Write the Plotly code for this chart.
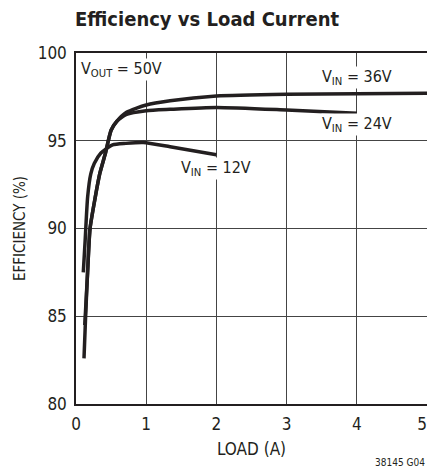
import plotly.graph_objects as go

# ---------------- data ----------------
load_12v = [0.104, 0.13, 0.166, 0.21, 0.26, 0.355, 0.52, 0.71, 0.96, 1.34, 2.0]
eff_12v = [87.5, 89.3, 91.8, 93.1, 93.7, 94.3, 94.76, 94.85, 94.9, 94.66, 94.2]

load_24v = [0.125, 0.165, 0.2, 0.275, 0.34, 0.42, 0.5, 0.58, 0.72, 1.0, 1.34, 2.0, 3.0, 4.0]
eff_24v = [84.5, 87.5, 90.0, 91.8, 93.15, 94.3, 95.6, 96.1, 96.5, 96.71, 96.79, 96.9, 96.75, 96.56]

load_36v = [0.114, 0.137, 0.165, 0.2, 0.275, 0.34, 0.42, 0.5, 0.58, 0.72, 1.0, 1.34, 2.0, 3.0, 4.0, 5.0]
eff_36v = [82.6, 85.0, 87.5, 90.0, 91.8, 93.15, 94.3, 95.6, 96.1, 96.62, 97.04, 97.28, 97.55, 97.65, 97.68, 97.7]

x_ticks = [0, 1, 2, 3, 4, 5]
x_labels = ["0", "1", "2", "3", "4", "5\u00a0\u00a0"]  # padded so the last label stays in the window
y_ticks = [80, 85, 90, 95, 100]

FONT = "DejaVu Sans Condensed, Liberation Sans Narrow, Arial Narrow, sans-serif"
INK = "#231f20"

fig = go.Figure()
for xs, ys in [(load_12v, eff_12v), (load_24v, eff_24v), (load_36v, eff_36v)]:
    fig.add_trace(go.Scatter(
        x=xs, y=ys, mode="lines", line=dict(color=INK, width=3.5, shape="spline", smoothing=0.6),
        showlegend=False, hoverinfo="skip"))

# labels with white boxes that cut the grid lines
labels = [
    ("V<sub>OUT</sub> = 50V", 0.06, 99.05, "left"),
    ("V<sub>IN</sub> = 36V", 4.0, 98.6, "center"),
    ("V<sub>IN</sub> = 24V", 4.0, 95.9, "center"),
    ("V<sub>IN</sub> = 12V", 2.0, 93.4, "center"),
]
for txt, x, y, xa in labels:
    fig.add_annotation(x=x, y=y, text=txt, showarrow=False, xanchor=xa, yanchor="middle",
                       bgcolor="white", borderpad=0,
                       font=dict(family=FONT, size=16, color=INK))

fig.add_annotation(x=0.372, y=1, xref="paper", yref="paper", yshift=20, text="<b>Efficiency vs Load Current</b>",
                   showarrow=False, xanchor="center", yanchor="bottom",
                   font=dict(family=FONT, size=20, color=INK))
fig.add_annotation(x=1.0, y=0, xref="paper", yref="paper", yshift=-51, text="38145 G04",
                   showarrow=False, xanchor="right", yanchor="top",
                   font=dict(family=FONT, size=10, color=INK))

axis_style = dict(showgrid=True, gridcolor="#444444", gridwidth=1, showline=True, linecolor=INK,
                  linewidth=1.5, mirror=True, ticks="", zeroline=False, automargin=False,
                  tickfont=dict(family=FONT, size=17, color=INK))

fig.update_xaxes(range=[0, 5], tickvals=x_ticks, ticktext=x_labels, ticklabelstandoff=4,
                 ticklabeloverflow="allow",
                 title=dict(text="LOAD (A)", standoff=10, font=dict(family=FONT, size=17, color=INK)),
                 **axis_style)
fig.update_yaxes(range=[80, 100], tickvals=y_ticks, ticklabelstandoff=4,
                 title=dict(text="EFFICIENCY (%)", standoff=8, font=dict(family=FONT, size=15, color=INK)),
                 **axis_style)

# page body adds an 8px margin, so the figure is drawn 8px smaller
fig.update_layout(width=427, height=462, margin=dict(l=68, r=8, t=45, b=66),
                  plot_bgcolor="white", paper_bgcolor="white")

fig.write_html("out.html")
